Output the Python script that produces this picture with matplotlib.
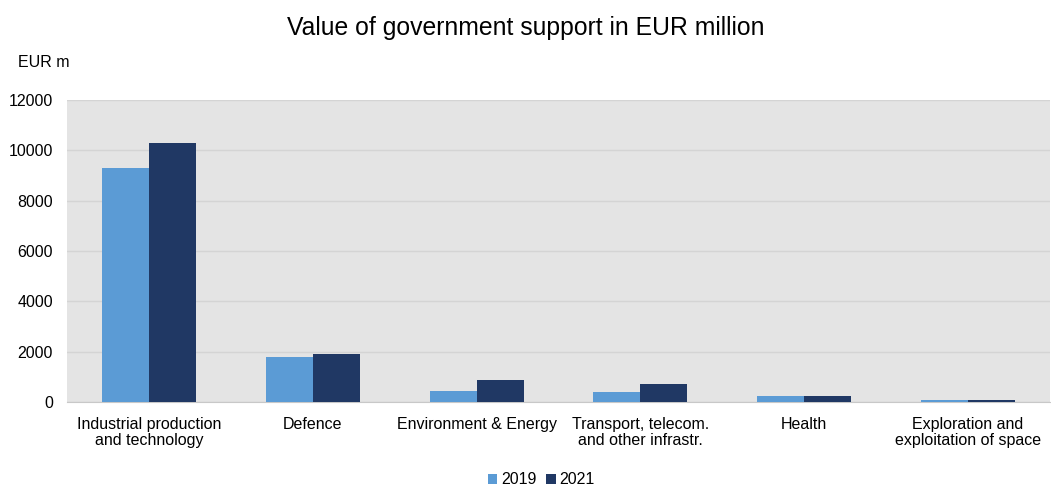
import numpy as np
import matplotlib.pyplot as plt

categories = ['Industrial production\nand technology', 'Defence', 'Environment & Energy',
              'Transport, telecom.\nand other infrastr.', 'Health',
              'Exploration and\nexploitation of space']
support_2019 = [9300, 1800, 430, 385, 225, 95]
support_2021 = [10300, 1900, 890, 715, 250, 100]
years = ['2019', '2021']

plt.rcParams['font.family'] = ['Liberation Sans', 'DejaVu Sans']

fig = plt.figure(figsize=(10.51, 4.87), dpi=100)
ax = fig.add_axes([0.0637, 0.1745, 0.9353, 0.6202])

x = np.arange(len(categories))
w = 0.287
ax.bar(x - w / 2, support_2019, w, color='#5b9bd5', label=years[0], zorder=3)
ax.bar(x + w / 2, support_2021, w, color='#203864', label=years[1], zorder=3)

ax.set_facecolor('#e4e4e4')
ax.set_xlim(-0.5, len(categories) - 0.5)
ax.set_ylim(0, 12000)
ax.set_yticks(np.arange(0, 12001, 2000))
ax.yaxis.grid(True, color='#d4d4d4', linewidth=1, zorder=0)
for s in ['top', 'right', 'left']:
    ax.spines[s].set_visible(False)
ax.spines['bottom'].set_color('#c8c8c8')
ax.tick_params(axis='both', length=0, labelsize=11.5, colors='#000000')
ax.tick_params(axis='y', pad=10)
ax.tick_params(axis='x', pad=11)
ax.set_xticks(x)
ax.set_xticklabels(categories, fontsize=11.5, linespacing=1.1)

fig.text(0.5, 0.942, 'Value of government support in EUR million', ha='center', va='center',
         fontsize=17.8)
fig.text(0.017, 0.872, 'EUR m', ha='left', va='center', fontsize=11.5)

fig.legend(loc='lower center', bbox_to_anchor=(0.515, -0.03), ncol=2, frameon=False,
           fontsize=11.5, handlelength=0.6, handleheight=0.6, handletextpad=0.25,
           columnspacing=0.6)

fig.savefig('out.png', dpi=100)
